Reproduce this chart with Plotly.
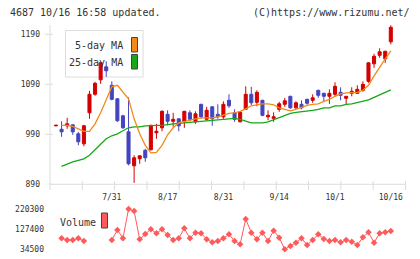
import plotly.graph_objects as go

W, H = 420, 259

# ---------------- data ----------------
days = list(range(1, 62))
opens = [1007, 1000, 1007, 1009, 991, 971, 1033, 1070, 1099, 1125,
         1088, 1061, 1027, 995, 927, 941, 958, 959, 993, 1003,
         1030, 1016, 1021, 1016, 1033, 1015, 1050, 1020, 1045, 1030,
         1025, 1058, 1033, 1015, 1040, 1070, 1054, 1058, 1025, 1022,
         1040, 1050, 1066, 1043, 1050, 1060, 1058, 1078, 1072, 1066,
         1070, 1074, 1062, 1072, 1072, 1078, 1096, 1131, 1148, 1141,
         1175]
highs = [1009, 1016, 1023, 1010, 995, 1009, 1077, 1095, 1135, 1136,
         1096, 1062, 1029, 1064, 948, 948, 961, 1009, 1011, 1038,
         1038, 1033, 1022, 1037, 1038, 1036, 1051, 1045, 1046, 1050,
         1056, 1070, 1040, 1036, 1086, 1085, 1078, 1059, 1038, 1034,
         1055, 1063, 1067, 1056, 1058, 1061, 1070, 1079, 1073, 1080,
         1094, 1084, 1066, 1084, 1088, 1096, 1134, 1151, 1162, 1157,
         1208]
lows = [1006, 985, 1001, 989, 968, 966, 1021, 1067, 1091, 1105,
        1058, 1015, 1001, 928, 893, 931, 935, 958, 981, 996,
        1008, 1005, 996, 1003, 1016, 1011, 1021, 1017, 1007, 1021,
        1021, 1043, 1015, 1014, 1040, 1048, 1046, 1026, 1018, 1015,
        1035, 1045, 1041, 1041, 1040, 1049, 1053, 1063, 1055, 1051,
        1066, 1058, 1049, 1066, 1071, 1075, 1093, 1123, 1143, 1133,
        1170]
closes = [1008, 995, 1011, 995, 975, 1007, 1070, 1092, 1133, 1117,
          1060, 1017, 1003, 931, 943, 947, 943, 1008, 996, 1036,
          1016, 1020, 1007, 1036, 1020, 1031, 1025, 1038, 1021, 1025,
          1050, 1047, 1020, 1034, 1070, 1053, 1074, 1028, 1028, 1025,
          1051, 1057, 1043, 1053, 1043, 1052, 1063, 1068, 1066, 1072,
          1086, 1068, 1066, 1076, 1080, 1090, 1133, 1146, 1155, 1156,
          1204]
ma5 = [None, 1008, 1008, 1006, 1001, 996, 996, 1011, 1033, 1058,
       1085, 1088, 1075, 1061, 1021, 991, 968, 953, 954, 968,
       989, 1003, 1013, 1016, 1018, 1021, 1023, 1023, 1023, 1025,
       1028, 1032, 1033, 1036, 1041, 1047, 1049, 1051, 1051, 1049,
       1043, 1040, 1037, 1040, 1044, 1048, 1050, 1051, 1056, 1060,
       1066, 1071, 1073, 1073, 1074, 1078, 1088, 1107, 1125, 1141,
       1157]
ma25 = [None, 926, 931, 935, 938, 941, 948, 959, 971, 981,
        987, 991, 997, 1003, 1005, 1005, 1007, 1008, 1008, 1008,
        1010, 1011, 1012, 1013, 1014, 1015, 1016, 1017, 1018, 1019,
        1020, 1022, 1022, 1020, 1016, 1013, 1013, 1013, 1015, 1019,
        1023, 1028, 1032, 1034, 1035, 1036, 1038, 1040, 1043, 1043,
        1047, 1047, 1050, 1051, 1054, 1056, 1059, 1064, 1069, 1074,
        1079]
volume = [None, 85170, 77500, 77500, 85170, 72900, None, None, None, None,
          77500, 123560, 85170, 220300, 211080, 80570, 105130, 126630, 108200, 126630,
          100530, 77500, 85170, 131240, 85170, 111270, 108200, 80570, 66750, 72900,
          85170, 103600, 72900, 57530, 174230, 111270, 80570, 111270, 72900, 120490,
          88240, 34500, 49860, 65210, 85170, 54460, 77500, 103600, 82100, 72900,
          77500, 66750, 77500, 69820, 54460, 89780, 112810, 65210, 108200, 112810,
          118950]
tick_days = [11, 21, 31, 41, 51, 61]
tick_labels = ["7/31", "8/17", "8/31", "9/14", "10/1", "10/16"]
price_ticks = [890, 990, 1090, 1190]
volume_ticks = [34500, 127400, 220300]

# ---------------- style ----------------
RED = "#d40000"
BLUE = "#4444c0"
ORANGE = "#f28a1a"
GREEN = "#16a816"
VOL = "#ff5a5a"
AXIS = "#dcdcdc"
TXT = "#333333"
FONT = "DejaVu Sans Mono"


def px(x):
    return x / W


def py(y):
    return 1 - y / H


fig = go.Figure()
fig.add_trace(go.Candlestick(
    x=days, open=opens, high=highs, low=lows, close=closes,
    increasing=dict(line=dict(color=RED, width=1), fillcolor=RED),
    decreasing=dict(line=dict(color=BLUE, width=1), fillcolor=BLUE),
    whiskerwidth=0, hoverinfo="skip", showlegend=False))
fig.add_trace(go.Scatter(x=days, y=ma25, mode="lines",
                         line=dict(color=GREEN, width=1.3), hoverinfo="skip", showlegend=False))
fig.add_trace(go.Scatter(x=days, y=ma5, mode="lines",
                         line=dict(color=ORANGE, width=1.3), hoverinfo="skip", showlegend=False))
fig.add_trace(go.Scatter(x=days, y=volume, yaxis="y2", mode="lines+markers",
                         line=dict(color=VOL, width=1),
                         marker=dict(symbol="diamond", size=5, color=VOL),
                         connectgaps=False, hoverinfo="skip", showlegend=False))

x_left, x_right = 50, 405.5
y_top, y_bot = 25, 184.3
v_top, v_bot = 200, 256

shapes = []
# axis lines
shapes.append(dict(type="line", xref="paper", yref="paper",
                   x0=px(x_left), x1=px(x_left), y0=py(190), y1=py(y_top),
                   line=dict(color=AXIS, width=1)))
shapes.append(dict(type="line", xref="paper", yref="paper",
                   x0=px(x_left), x1=px(x_right + 0.5), y0=py(y_bot), y1=py(y_bot),
                   line=dict(color=AXIS, width=1)))
for k in range(1, 12):
    xx = x_left + (x_right - x_left) * k / 11
    shapes.append(dict(type="line", xref="paper", yref="paper",
                       x0=px(xx), x1=px(xx), y0=py(181), y1=py(190),
                       line=dict(color=AXIS, width=1)))
for v in price_ticks:
    shapes.append(dict(type="line", xref="paper", yref="y",
                       x0=px(45), x1=px(53), y0=v, y1=v,
                       line=dict(color=AXIS, width=1)))
# legend box
shapes.append(dict(type="rect", xref="paper", yref="paper",
                   x0=px(65.5), x1=px(143), y0=py(77), y1=py(30.5),
                   line=dict(color=AXIS, width=1), fillcolor="white", layer="below"))
shapes.append(dict(type="rect", xref="paper", yref="paper",
                   x0=px(131.5), x1=px(137.5), y0=py(52), y1=py(37.5),
                   line=dict(color="#444", width=1), fillcolor=ORANGE))
shapes.append(dict(type="rect", xref="paper", yref="paper",
                   x0=px(131.5), x1=px(137.5), y0=py(69), y1=py(54.5),
                   line=dict(color="#444", width=1), fillcolor=GREEN))
shapes.append(dict(type="rect", xref="paper", yref="paper",
                   x0=px(101.5), x1=px(107.5), y0=py(228), y1=py(213),
                   line=dict(color="#444", width=1), fillcolor=VOL))

f10 = dict(family=FONT, size=10, color=TXT)
annotations = [
    dict(text="4687 10/16 16:58 updated.", x=px(7.5), y=py(12.5), xref="paper", yref="paper",
         xanchor="left", yanchor="middle", showarrow=False, font=f10),
    dict(text="(C)https://www.rizumu.net/", x=px(412), y=py(12.5), xref="paper", yref="paper",
         xanchor="right", yanchor="middle", showarrow=False, font=f10),
    dict(text="5-day MA", x=px(125), y=py(45.5), xref="paper", yref="paper",
         xanchor="right", yanchor="middle", showarrow=False, font=f10),
    dict(text="25-day MA", x=px(125), y=py(62.5), xref="paper", yref="paper",
         xanchor="right", yanchor="middle", showarrow=False, font=f10),
    dict(text="Volume", x=px(57.5), y=py(222.5), xref="paper", yref="paper",
         xanchor="left", yanchor="middle", showarrow=False, font=f10),
]

# ranges: x pixel = 56 + 5.58*(day-1)
step = 5.58
xr = [1 + (x_left - 56) / step, 1 + (x_right - 56) / step]
ppu = 0.5  # px per price unit
yr = [890 - (y_bot - 184.3) / ppu, 890 + (y_bot - y_top) / ppu]
vppu = (249.3 - 209.0) / (220300 - 34500)
vr = [34500 - (v_bot - 249.3) / vppu, 220300 + (209.0 - v_top) / vppu]

tickfont = dict(family=FONT, size=8, color=TXT)
fig.update_layout(
    width=W, height=H, margin=dict(l=0, r=0, t=0, b=0),
    paper_bgcolor="white", plot_bgcolor="rgba(0,0,0,0)",
    boxgap=0.22, showlegend=False,
    xaxis=dict(domain=[px(x_left), px(x_right)], range=xr, anchor="y",
               showgrid=False, zeroline=False, showline=False, ticks="",
               tickvals=tick_days, ticktext=tick_labels, tickfont=tickfont,
               ticklabelstandoff=7, rangeslider=dict(visible=False), automargin=False),
    yaxis=dict(domain=[py(y_bot), py(y_top)], range=yr, anchor="x",
               showgrid=False, zeroline=False, showline=False, ticks="",
               tickvals=price_ticks, tickfont=tickfont, ticklabelstandoff=9, automargin=False),
    yaxis2=dict(domain=[py(v_bot), py(v_top)], range=vr, anchor="x",
                showgrid=False, zeroline=False, showline=False, ticks="",
                tickvals=volume_ticks, tickformat="d", tickfont=tickfont,
                ticklabelstandoff=5, automargin=False),
    shapes=shapes, annotations=annotations,
)

fig.write_html("out.html")
